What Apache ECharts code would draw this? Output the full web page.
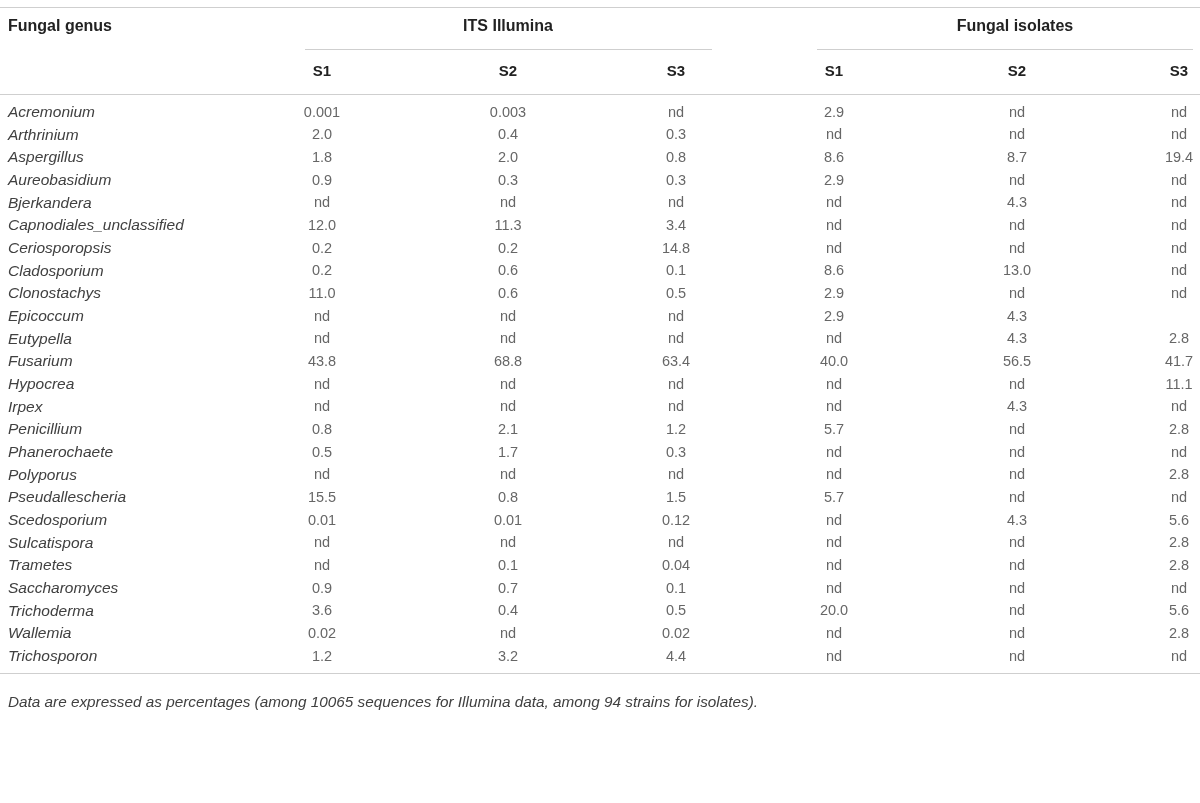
<!DOCTYPE html>
<html>
<head>
<meta charset="utf-8">
<script src="https://cdn.jsdelivr.net/npm/echarts@6/dist/echarts.min.js"></script>
<style>
  html, body { margin: 0; padding: 0; background: #fff; }
  #main { width: 1200px; height: 803px; }
</style>
</head>
<body>
<div id="main"></div>
<script>
// rows of the table
var genera = ['Acremonium', 'Arthrinium', 'Aspergillus', 'Aureobasidium', 'Bjerkandera',
  'Capnodiales_unclassified', 'Ceriosporopsis', 'Cladosporium', 'Clonostachys', 'Epicoccum',
  'Eutypella', 'Fusarium', 'Hypocrea', 'Irpex', 'Penicillium', 'Phanerochaete', 'Polyporus',
  'Pseudallescheria', 'Scedosporium', 'Sulcatispora', 'Trametes', 'Saccharomyces',
  'Trichoderma', 'Wallemia', 'Trichosporon'];

var columns = ['S1', 'S2', 'S3', 'S1', 'S2', 'S3'];

// ITS Illumina (%)
var itsS1 = ['0.001', '2.0', '1.8', '0.9', 'nd', '12.0', '0.2', '0.2', '11.0', 'nd', 'nd', '43.8', 'nd',
  'nd', '0.8', '0.5', 'nd', '15.5', '0.01', 'nd', 'nd', '0.9', '3.6', '0.02', '1.2'];
var itsS2 = ['0.003', '0.4', '2.0', '0.3', 'nd', '11.3', '0.2', '0.6', '0.6', 'nd', 'nd', '68.8', 'nd',
  'nd', '2.1', '1.7', 'nd', '0.8', '0.01', 'nd', '0.1', '0.7', '0.4', 'nd', '3.2'];
var itsS3 = ['nd', '0.3', '0.8', '0.3', 'nd', '3.4', '14.8', '0.1', '0.5', 'nd', 'nd', '63.4', 'nd',
  'nd', '1.2', '0.3', 'nd', '1.5', '0.12', 'nd', '0.04', '0.1', '0.5', '0.02', '4.4'];
// Fungal isolates (%)
var isoS1 = ['2.9', 'nd', '8.6', '2.9', 'nd', 'nd', 'nd', '8.6', '2.9', '2.9', 'nd', '40.0', 'nd',
  'nd', '5.7', 'nd', 'nd', '5.7', 'nd', 'nd', 'nd', 'nd', '20.0', 'nd', 'nd'];
var isoS2 = ['nd', 'nd', '8.7', 'nd', '4.3', 'nd', 'nd', '13.0', 'nd', '4.3', '4.3', '56.5', 'nd',
  '4.3', 'nd', 'nd', 'nd', 'nd', '4.3', 'nd', 'nd', 'nd', 'nd', 'nd', 'nd'];
var isoS3 = ['nd', 'nd', '19.4', 'nd', 'nd', 'nd', 'nd', 'nd', 'nd', '', '2.8', '41.7', '11.1',
  'nd', '2.8', 'nd', '2.8', 'nd', '5.6', '2.8', '2.8', 'nd', '5.6', '2.8', 'nd'];

var footnote = 'Data are expressed as percentages (among 10065 sequences for Illumina data, among 94 strains for isolates).';

var FONT = '"Liberation Sans", Arial, Helvetica, sans-serif';
var TXT = '#404040';
var RULE = '#cfcfcf';
// small horizontal nudges so the evenly spaced columns sit where the original table has them
var colShift = [-7, 8, 5, -8, 4, -5];

var chart = echarts.init(document.getElementById('main'));

var colValues = [itsS1, itsS2, itsS3, isoS1, isoS2, isoS3];
var series = colValues.map(function (vals, c) {
  return {
    type: 'scatter',
    symbolSize: 0,
    silent: true,
    data: vals.map(function (v, r) { return [c, r, v]; }),
    label: {
      show: true,
      position: 'inside',
      offset: [colShift[c], 0],
      formatter: function (p) { return p.value[2]; },
      color: TXT,
      fontFamily: FONT,
      fontSize: 14.5
    }
  };
});

var colHeads = columns.map(function (name, c) {
  var d = colShift[c];
  return { value: name + '#' + c, textStyle: {
    verticalAlign: 'middle',
    padding: d > 0 ? [0, 0, 0, 2 * d] : [0, -2 * d, 0, 0] } };
});

function hline(x1, x2, y) {
  return { type: 'line', shape: { x1: x1, y1: y, x2: x2, y2: y }, style: { stroke: RULE, lineWidth: 1 } };
}
function head(text, x, y, align) {
  return { type: 'text', x: x, y: y, style: { text: text, textAlign: align, textVerticalAlign: 'middle',
    fill: '#222', font: 'bold 16px ' + FONT } };
}

chart.setOption({
  backgroundColor: '#fff',
  animation: false,
  grid: { left: 329, right: 16, top: 101.3, height: 566.7 },
  xAxis: {
    type: 'category',
    data: colHeads,
    boundaryGap: false,
    position: 'top',
    axisLine: { show: false },
    axisTick: { show: false },
    splitLine: { show: false },
    axisLabel: {
      margin: 29, verticalAlign: 'middle',
      formatter: function (v) { return v.split('#')[0]; },
      color: '#222', fontFamily: FONT, fontSize: 15, fontWeight: 'bold'
    }
  },
  yAxis: {
    type: 'category',
    data: genera,
    inverse: true,
    axisLine: { show: false },
    axisTick: { show: false },
    splitLine: { show: false },
    axisLabel: {
      align: 'left', margin: 321,
      color: TXT, fontFamily: FONT, fontSize: 15.5, fontStyle: 'italic'
    }
  },
  series: series,
  graphic: [
    hline(0, 1200, 7.5),
    hline(305, 712, 49.5),
    hline(817, 1193, 49.5),
    hline(0, 1200, 94.5),
    hline(0, 1200, 673.5),
    head('Fungal genus', 8, 27, 'left'),
    head('ITS Illumina', 508, 27, 'center'),
    head('Fungal isolates', 1015, 27, 'center'),
    { type: 'text', x: 8, y: 703, style: { text: footnote, textVerticalAlign: 'middle', fill: TXT,
      font: 'italic 15.3px ' + FONT } }
  ]
});
</script>
</body>
</html>
